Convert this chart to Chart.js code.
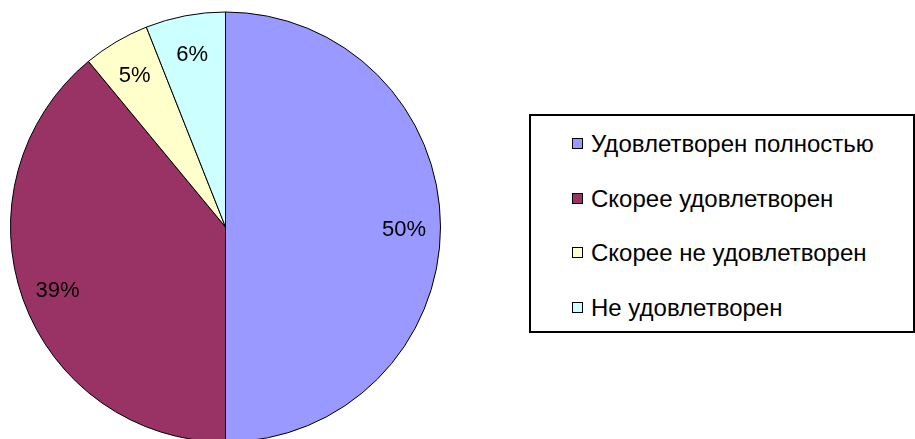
<!DOCTYPE html>
<html>
<head>
<meta charset="utf-8">
<script src="https://cdn.jsdelivr.net/npm/chart.js@4/dist/chart.umd.min.js"></script>
<style>
html,body{margin:0;padding:0;background:#fff;overflow:hidden;}
#wrap{position:relative;width:915px;height:439px;}
#c{position:absolute;left:0;top:0;}
#legend{position:absolute;left:529px;top:114px;width:382px;height:215px;border:2px solid #000;background:#fff;font-family:"Liberation Sans",Arial,sans-serif;font-size:24px;color:#000;}
.item{position:absolute;left:41px;height:24px;line-height:24px;white-space:nowrap;}
.box{position:absolute;left:0;top:6px;width:9px;height:9px;border:1.5px solid #000;}
.txt{position:absolute;left:19px;top:0;}
</style>
</head>
<body>
<div id="wrap">
<canvas id="c" width="915" height="439"></canvas>
<div id="legend"></div>
</div>
<script>
const categories = ["Удовлетворен полностью", "Скорее удовлетворен", "Скорее не удовлетворен", "Не удовлетворен"];
const values = [50, 39, 5, 6];
const percentLabels = ["50%", "39%", "5%", "6%"];
const colors = ["#9999FF", "#993366", "#FFFFCC", "#CCFFFF"];

// HTML legend built from the categories
const legend = document.getElementById('legend');
const rowTops = [16, 71, 125, 180];
categories.forEach((name, i) => {
  const d = document.createElement('div');
  d.className = 'item';
  d.style.top = rowTops[i] + 'px';
  const b = document.createElement('span');
  b.className = 'box';
  b.style.background = colors[i];
  const t = document.createElement('span');
  t.className = 'txt';
  t.textContent = name;
  d.appendChild(b); d.appendChild(t);
  legend.appendChild(d);
});

const labelPlugin = {
  id: 'pctLabels',
  afterDatasetsDraw(chart) {
    const ctx = chart.ctx;
    const meta = chart.getDatasetMeta(0);
    ctx.save();
    ctx.font = '22px "Liberation Sans", Arial, sans-serif';
    ctx.fillStyle = '#000';
    ctx.textAlign = 'center';
    ctx.textBaseline = 'middle';
    meta.data.forEach((arc, i) => {
      const p = arc.getProps(['x', 'y', 'startAngle', 'endAngle', 'outerRadius'], true);
      const mid = (p.startAngle + p.endAngle) / 2;
      const r = p.outerRadius * 0.83;
      ctx.fillText(percentLabels[i], p.x + Math.cos(mid) * r, p.y + Math.sin(mid) * r + 3);
    });
    ctx.restore();
  }
};

new Chart(document.getElementById('c'), {
  type: 'pie',
  data: {
    labels: categories,
    datasets: [{
      data: values,
      backgroundColor: colors,
      borderColor: '#000',
      borderWidth: 1,
      clip: false
    }]
  },
  options: {
    responsive: false,
    animation: false,
    radius: 215,
    layout: { padding: { left: 10, right: 474, top: 15, bottom: 0 } },
    plugins: {
      legend: { display: false },
      tooltip: { enabled: false }
    }
  },
  plugins: [labelPlugin]
});
</script>
</body>
</html>
